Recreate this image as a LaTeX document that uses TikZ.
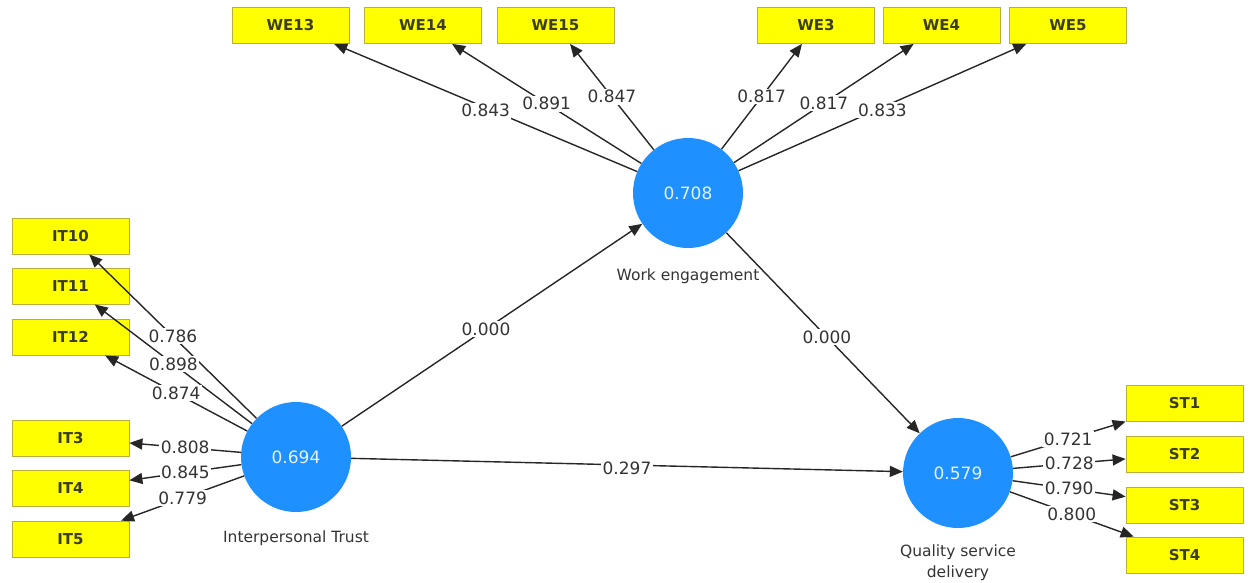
\documentclass[tikz,border=0pt]{standalone}
\usepackage{fontspec}
\setmainfont{DejaVu Sans}
\usetikzlibrary{arrows.meta}
\definecolor{lvblue}{RGB}{30,144,255}
\definecolor{boxyellow}{RGB}{255,255,0}
\definecolor{boxedge}{RGB}{185,175,60}
\definecolor{boxtext}{RGB}{60,60,30}
\begin{document}
\begin{tikzpicture}[x=1pt,y=-1pt,
  ind/.style={draw=boxedge, line width=0.8pt, fill=boxyellow, minimum width=117pt, minimum height=36pt, inner sep=0pt, font=\fontsize{15}{17}\selectfont\bfseries, text=boxtext},
  lv/.style={circle, fill=lvblue, minimum size=110pt, inner sep=0pt, text=white!88!lvblue, font=\fontsize{17}{19}\selectfont},
  conn/.style={draw=black!85, line width=1.4pt, -{Triangle[length=13pt,width=11pt]}},
  lab/.style={fill=white, inner sep=1.5pt, font=\fontsize{17}{19}\selectfont, text=black!80},
  lvcaption/.style={font=\fontsize{15.5}{21}\selectfont, text=black!80, align=center}]
\useasboundingbox (0,0) rectangle (1250,582);

% latent variables
\node[lv] (IT) at (296,457) {0.694};
\node[lv] (WE) at (688,193) {0.708};
\node[lv] (QSD) at (958,473) {0.579};

\node[lvcaption] (ITcap) at (296,538) {Interpersonal Trust};
\node[lvcaption] (WEcap) at (688,276) {Work engagement};
\node[lvcaption] (QSDcap) at (958,563) {Quality service\\delivery};

% indicators
\node[ind] (IT10) at (70.5,236) {IT10};
\node[ind] (IT11) at (70.5,286) {IT11};
\node[ind] (IT12) at (70.5,337) {IT12};
\node[ind] (IT3) at (70.5,438) {IT3};
\node[ind] (IT4) at (70.5,488.5) {IT4};
\node[ind] (IT5) at (70.5,539) {IT5};

\node[ind] (WE13) at (290.5,25.5) {WE13};
\node[ind] (WE14) at (423,25.5) {WE14};
\node[ind] (WE15) at (555.5,25.5) {WE15};
\node[ind] (WE3) at (816,25.5) {WE3};
\node[ind] (WE4) at (941.5,25.5) {WE4};
\node[ind] (WE5) at (1068,25.5) {WE5};

\node[ind] (ST1) at (1184.5,403.5) {ST1};
\node[ind] (ST2) at (1184.5,454) {ST2};
\node[ind] (ST3) at (1184.5,505) {ST3};
\node[ind] (ST4) at (1184.5,555) {ST4};

% outer loadings
\draw[conn] (IT) -- node[lab]{0.786} (IT10);
\draw[conn] (IT) -- node[lab]{0.898} (IT11);
\draw[conn] (IT) -- node[lab]{0.874} (IT12);
\draw[conn] (IT) -- node[lab]{0.808} (IT3);
\draw[conn] (IT) -- node[lab]{0.845} (IT4);
\draw[conn] (IT) -- node[lab]{0.779} (IT5);

\draw[conn] (WE) -- node[lab, yshift=-3pt]{0.843} (WE13);
\draw[conn] (WE) -- node[lab]{0.891} (WE14);
\draw[conn] (WE) -- node[lab]{0.847} (WE15);
\draw[conn] (WE) -- node[lab]{0.817} (WE3);
\draw[conn] (WE) -- node[lab]{0.817} (WE4);
\draw[conn] (WE) -- node[lab, yshift=-3pt]{0.833} (WE5);

\draw[conn] (QSD) -- node[lab]{0.721} (ST1);
\draw[conn] (QSD) -- node[lab]{0.728} (ST2);
\draw[conn] (QSD) -- node[lab]{0.790} (ST3);
\draw[conn] (QSD) -- node[lab]{0.800} (ST4);

% structural paths
\draw[conn] (IT) -- node[lab, pos=0.48]{0.000} (WE);
\draw[conn] (WE) -- node[lab, pos=0.52]{0.000} (QSD);
\draw[conn] (IT) -- node[lab, yshift=-3pt]{0.297} (QSD);
\end{tikzpicture}
\end{document}
